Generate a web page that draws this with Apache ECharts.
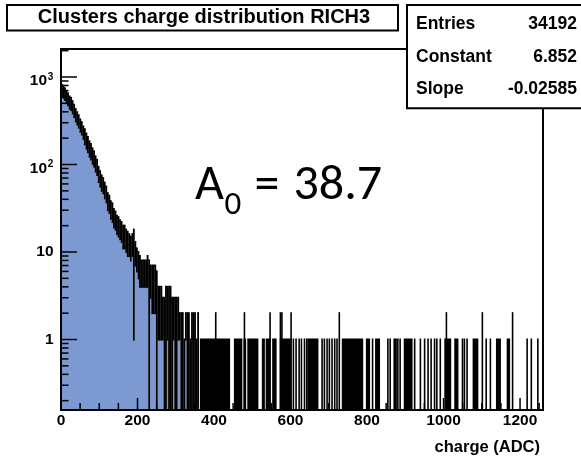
<!DOCTYPE html>
<html>
<head>
<meta charset="utf-8">
<script src="https://cdn.jsdelivr.net/npm/echarts@6/dist/echarts.min.js"></script>
<style>
  html, body { margin: 0; padding: 0; background: #fff; }
  #chart { width: 581px; height: 458px; }
</style>
</head>
<body>
<div id="chart"></div>
<script>
// Cluster charge spectrum of RICH3.
// Up to 360 ADC the spectrum is stored in 4-ADC slices: the largest and the
// smallest bin content found inside each slice (0 = an empty bin in the slice).
const SLICE_ADC = 4;
const sliceMax = [
  813, 790, 745, 690, 650, 598, 578, 530, 482, 430,
  396, 366, 328, 305, 272, 253, 226, 206, 184, 171,
  153, 142, 124, 113, 94, 84, 75, 70, 62, 56,
  47, 44, 38, 36, 31, 29, 26, 25, 23, 22,
  20, 20, 18, 17, 16, 15, 16, 18, 13, 11,
  10, 9, 8, 8, 8, 8, 9, 8, 7, 7,
  7, 7, 6, 4, 4, 4, 3, 3, 4, 4,
  4, 4, 3, 3, 3, 3, 3, 2, 2, 2,
  1, 2, 2, 2, 1, 2, 2, 2, 1, 2
];
const sliceMin = [
  600, 578, 545, 502, 474, 434, 418, 383, 349, 311,
  286, 264, 237, 220, 196, 170, 152, 138, 123, 114,
  102, 95, 83, 76, 63, 56, 50, 47, 41, 37,
  30, 28, 24, 22, 19, 18, 16, 15, 14, 13,
  11, 11, 10, 9, 9, 8, 9, 1, 7, 6,
  5, 4, 4, 4, 4, 4, 4, 0, 3, 2,
  2, 2, 0, 1, 1, 1, 1, 0, 0, 1,
  0, 0, 0, 1, 0, 0, 1, 1, 0, 0,
  0, 1, 0, 0, 0, 0, 0, 0, 0, 0
];

// Sparse tail above 360 ADC: stretches densely filled with single-count bins,
// isolated single-count bins and bins holding two counts (ADC).
const tailRunFrom = [363, 452, 477, 487, 525, 535, 552, 572, 644, 734, 797, 821, 869, 896, 1002, 1028, 1076, 1137, 1165];
const tailRunTo   = [442, 474, 484, 516, 533, 548, 560, 601, 673, 790, 808, 834, 878, 919, 1020, 1039, 1091, 1150, 1174];
const tailSingles = [561, 607, 614, 622, 628, 636, 642, 682, 688, 695, 701, 708, 715, 721,
                     814, 854, 860, 880, 886, 924, 939, 950, 959, 967, 976, 982, 991,
                     1049, 1054, 1061, 1111, 1122, 1218, 1229, 1246];
const tailDoubles = [404, 479, 546, 573, 577, 601, 727, 1007, 1101, 1180];

// Axis ranges and tick marks
const X_MIN = 0, X_MAX = 1260;
const Y_MIN = 0.1564, Y_MAX = 2089;
const xLabelTicks = [0, 200, 400, 600, 800, 1000, 1200];
const X_MINOR_STEP = 50;
const yDecades = [1, 10, 100, 1000];
const yDecadeText = [['1', ''], ['10', ''], ['10', '2'], ['10', '3']];

// Statistics box
const statNames = ['Entries', 'Constant', 'Slope'];
const statValues = ['34192', '6.852', '-0.02585'];
const fitSlope = -0.02585;

const FONT = '"Liberation Sans", Arial, Helvetica, sans-serif';
const NOTE_FONT = 'Carlito, Lato, sans-serif';
const FILL_BLUE = '#7d99d1';
const font = (size, weight) => (weight || 'normal') + ' ' + size + 'px ' + FONT;

const sliceData = sliceMax.map((hi, i) => [i * SLICE_ADC, (i + 1) * SLICE_ADC, sliceMin[i], hi]);
const tailData = [];
tailRunFrom.forEach((from, i) => tailData.push([from, tailRunTo[i], 1]));
tailSingles.forEach(c => tailData.push([c, c + 1, 1]));
tailDoubles.forEach(c => tailData.push([c, c + 1, 2]));

const yMinorTicks = [];
[0.1, 1, 10, 100, 1000].forEach(d => {
  for (let m = 2; m <= 9; m++) {
    const v = m * d;
    if (v > Y_MIN && v < Y_MAX) yMinorTicks.push(v);
  }
});
const xMinorTicks = [];
for (let v = X_MINOR_STEP; v < X_MAX; v += X_MINOR_STEP) {
  if (xLabelTicks.indexOf(v) < 0) xMinorTicks.push(v);
}

const solid = color => ({ fill: color, lineWidth: 0 });

// Blue fill of the body: one stepped outline following the slice minima
function renderFill(params, api) {
  const bottom = api.coord([X_MIN, Y_MIN])[1];
  const pts = [[api.coord([X_MIN, Y_MIN])[0], bottom]];
  sliceMin.forEach((lo, i) => {
    const xa = api.coord([i * SLICE_ADC, Y_MIN])[0];
    const xb = api.coord([(i + 1) * SLICE_ADC, Y_MIN])[0];
    const y = lo > 0 ? api.coord([i * SLICE_ADC, lo])[1] : bottom;
    pts.push([xa, y], [xb, y]);
  });
  pts.push([api.coord([sliceMin.length * SLICE_ADC, Y_MIN])[0], bottom]);
  return { type: 'polygon', shape: { points: pts }, style: solid(FILL_BLUE) };
}

// Black band of each slice, from its minimum (or the frame bottom) to its maximum
function renderSlice(params, api) {
  const x0 = api.value(0), x1 = api.value(1), lo = api.value(2), hi = api.value(3);
  const pb = api.coord([x0, Y_MIN]);
  const left = pb[0], bottom = pb[1];
  const right = api.coord([x1, Y_MIN])[0];
  const yHi = api.coord([x0, hi])[1];
  const yLo = lo > 0 ? api.coord([x0, lo])[1] : bottom;
  return {
    type: 'rect',
    shape: { x: left, y: yHi - 1, width: right - left + 0.3, height: yLo - yHi + 2 },
    style: solid('#000')
  };
}

// Tail bins: black strokes from the bottom of the frame up to the content
function renderTail(params, api) {
  const x0 = api.value(0), x1 = api.value(1), v = api.value(2);
  const bottom = api.coord([x0, Y_MIN])[1];
  let left = api.coord([x0, Y_MIN])[0];
  let right = api.coord([x1, Y_MIN])[0];
  if (right - left < 1.6) {
    const mid = (left + right) / 2;
    left = mid - 0.8; right = mid + 0.8;
  }
  const top = api.coord([x0, v])[1];
  return { type: 'rect', shape: { x: left, y: top - 1, width: right - left, height: bottom - top + 1 }, style: solid('#000') };
}

// Frame, inward ticks and the logarithmic labels
function renderFrame(params, api) {
  const pl = api.coord([X_MIN, Y_MIN]);
  const pr = api.coord([X_MAX, Y_MAX]);
  const xl = pl[0], yb = pl[1], xr = pr[0], yt = pr[1];
  const children = [];
  const tick = (x1, y1, x2, y2) => children.push({
    type: 'line', shape: { x1, y1, x2, y2 }, style: { stroke: '#000', lineWidth: 1.5 }
  });
  yDecades.forEach(v => { const y = api.coord([X_MIN, v])[1]; tick(xl, y, xl + 16, y); });
  yMinorTicks.forEach(v => { const y = api.coord([X_MIN, v])[1]; tick(xl, y, xl + 7.5, y); });
  xLabelTicks.forEach(v => { const x = api.coord([v, Y_MIN])[0]; tick(x, yb, x, yb - 12); });
  xMinorTicks.forEach(v => { const x = api.coord([v, Y_MIN])[0]; tick(x, yb, x, yb - 7); });
  children.push({
    type: 'rect', shape: { x: xl, y: yt, width: xr - xl, height: yb - yt },
    style: { fill: 'none', stroke: '#000', lineWidth: 2 }
  });
  yDecades.forEach((v, i) => {
    const y = api.coord([X_MIN, v])[1];
    const base = yDecadeText[i][0], sup = yDecadeText[i][1];
    if (sup) {
      children.push({ type: 'text', style: { text: base, x: xl - 14, y: y + 4, font: font(15.5, 'bold'), fill: '#000', align: 'right', verticalAlign: 'middle' } });
      children.push({ type: 'text', style: { text: sup, x: xl - 13.2, y: y, font: font(10, 'bold'), fill: '#000', align: 'left', verticalAlign: 'middle' } });
    } else {
      children.push({ type: 'text', style: { text: base, x: xl - 7.5, y: y, font: font(15.5, 'bold'), fill: '#000', align: 'right', verticalAlign: 'middle' } });
    }
  });
  return { type: 'group', children };
}

function txt(text, x, y, f, align) {
  return {
    type: 'text', z: 100,
    style: { text, x, y, font: f, fill: '#000', align, verticalAlign: 'middle' }
  };
}

const a0 = (-1 / fitSlope).toFixed(1);
const statRowY = [24.2, 56.8, 89.3];

const graphic = [
  // title pave
  { type: 'rect', z: 90, shape: { x: 7, y: 5, width: 391, height: 25.5 }, style: { fill: '#fff', stroke: '#000', lineWidth: 2 } },
  txt('Clusters charge distribution RICH3', 204, 17.4, font(20, 'bold'), 'center'),
  // statistics pave
  { type: 'rect', z: 90, shape: { x: 407, y: 5, width: 200, height: 103.3 }, style: { fill: '#fff', stroke: '#000', lineWidth: 2 } },
  // axis title
  txt('charge (ADC)', 540, 447, font(16.5, 'bold'), 'right'),
  // decay constant annotation
  txt('A', 195, 186.5, '50px ' + NOTE_FONT, 'left'),
  txt('0', 224.5, 206, '33px ' + NOTE_FONT, 'left'),
  txt('=', 254.5, 186.5, '50px ' + NOTE_FONT, 'left'),
  txt(a0, 293.5, 186.5, '50px ' + NOTE_FONT, 'left')
];
statNames.forEach((name, i) => {
  graphic.push(txt(name, 416, statRowY[i], font(17.5, 'bold'), 'left'));
  graphic.push(txt(statValues[i], 577, statRowY[i], font(17.5, 'bold'), 'right'));
});

const chart = echarts.init(document.getElementById('chart'), null, { renderer: 'canvas' });
chart.setOption({
  animation: false,
  backgroundColor: '#fff',
  grid: { left: 61, top: 49, right: 38, bottom: 48 },
  xAxis: {
    type: 'value', min: X_MIN, max: X_MAX, interval: 200,
    axisLine: { show: false }, axisTick: { show: false }, splitLine: { show: false },
    axisLabel: {
      margin: 3, color: '#000', fontFamily: FONT, fontWeight: 'bold', fontSize: 15.5,
      showMaxLabel: false,
      formatter: v => (xLabelTicks.indexOf(v) >= 0 ? String(v) : '')
    }
  },
  yAxis: {
    type: 'log', logBase: 10, min: Y_MIN, max: Y_MAX,
    axisLine: { show: false }, axisTick: { show: false }, splitLine: { show: false },
    axisLabel: { show: false }
  },
  series: [
    { type: 'custom', name: 'fill', data: [[X_MIN, Y_MIN]], encode: { x: 0, y: 1 }, renderItem: renderFill, z: 1, clip: true },
    { type: 'custom', name: 'body', data: sliceData, encode: { x: [0, 1], y: 3 }, renderItem: renderSlice, z: 2, clip: true },
    { type: 'custom', name: 'tail', data: tailData, encode: { x: [0, 1], y: 2 }, renderItem: renderTail, z: 2, clip: true },
    { type: 'custom', name: 'frame', data: [[X_MIN, Y_MIN]], encode: { x: 0, y: 1 }, renderItem: renderFrame, z: 5, clip: false }
  ],
  graphic: graphic
});
</script>
</body>
</html>
